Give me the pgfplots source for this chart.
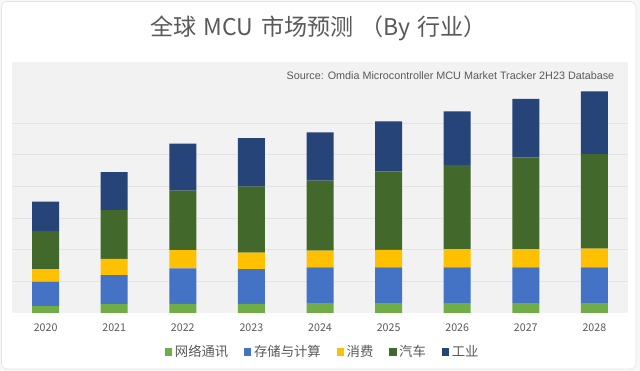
\documentclass[border=0pt]{standalone}
\usepackage{pgfplots}
\pgfplotsset{compat=1.18}
\usepackage{fontspec}
\setmainfont{Noto Sans CJK SC}
\newfontfamily\srcfont{Liberation Sans}
\definecolor{cNet}{HTML}{70AD47}
\definecolor{cSto}{HTML}{4472C4}
\definecolor{cCon}{HTML}{FFC000}
\definecolor{cCar}{HTML}{43682B}
\definecolor{cInd}{HTML}{264478}
\definecolor{txt}{HTML}{595959}
\definecolor{plotbg}{HTML}{F2F2F2}
\definecolor{gridc}{HTML}{E3E3E3}
\definecolor{outerbg}{HTML}{F7F7F7}
\definecolor{cardline}{HTML}{E3E3E3}
\begin{document}
\begin{tikzpicture}[x=0.75pt,y=0.75pt]
\fill[outerbg] (-12,-58) rectangle (628,313);
\draw[fill=white, draw=cardline, rounded corners=4] (-10.5,-56) rectangle (624,311.5);
\node[text=txt, font=\fontsize{17.3}{20}\selectfont] at (306.5,285) {全球\hspace{0.3em}MCU\hspace{0.35em}市场预测\hspace{0.3em}（By\hspace{0.3em}行业）};
\begin{axis}[name=ax, scale only axis,
  width=462pt, height=188.25pt,
  xmin=-0.49, xmax=8.49, ymin=0, ymax=7.94,
  ybar stacked, bar width=20.25pt,
  axis background/.style={fill=plotbg},
  axis line style={draw=none},
  major tick style={draw=none},
  ytick={1,2,3,4,5,6}, yticklabels={},
  ymajorgrids, grid style={draw=gridc, line width=0.8pt},
  xtick={0,1,2,3,4,5,6,7,8},
  xticklabels={2020,2021,2022,2023,2024,2025,2026,2027,2028},
  xticklabel style={anchor=base, yshift=-13.7pt, text=txt, font=\fontsize{8}{10}\selectfont},
  legend columns=-1,
  legend image code/.code={\fill[#1] (0pt,-2.7pt) rectangle (5.4pt,2.7pt);},
  legend style={at={(0.505,-0.155)}, anchor=center, draw=none, fill=none,
    font=\fontsize{10}{11}\selectfont, text=txt,
    /tikz/every even column/.append style={column sep=10pt},
    /tikz/every odd column/.append style={column sep=0pt}},
]
\addplot[fill=cNet, draw=none] coordinates {(0,0.22) (1,0.28) (2,0.29) (3,0.29) (4,0.31) (5,0.31) (6,0.31) (7,0.31) (8,0.31)};
\addlegendentry{网络通讯}
\addplot[fill=cSto, draw=none] coordinates {(0,0.77) (1,0.92) (2,1.12) (3,1.10) (4,1.13) (5,1.13) (6,1.13) (7,1.13) (8,1.13)};
\addlegendentry{存储与计算}
\addplot[fill=cCon, draw=none] coordinates {(0,0.40) (1,0.51) (2,0.58) (3,0.52) (4,0.53) (5,0.56) (6,0.58) (7,0.58) (8,0.60)};
\addlegendentry{消费}
\addplot[fill=cCar, draw=none] coordinates {(0,1.20) (1,1.55) (2,1.88) (3,2.09) (4,2.22) (5,2.48) (6,2.66) (7,2.90) (8,2.99)};
\addlegendentry{汽车}
\addplot[fill=cInd, draw=none] coordinates {(0,0.93) (1,1.20) (2,1.49) (3,1.53) (4,1.52) (5,1.58) (6,1.70) (7,1.85) (8,1.98)};
\addlegendentry{工业}
\end{axis}
\node[anchor=east, text=txt, font=\srcfont\fontsize{8.1}{9}\selectfont] at (607,237) {Source: Omdia Microcontroller MCU Market Tracker 2H23 Database};
\end{tikzpicture}
\end{document}
